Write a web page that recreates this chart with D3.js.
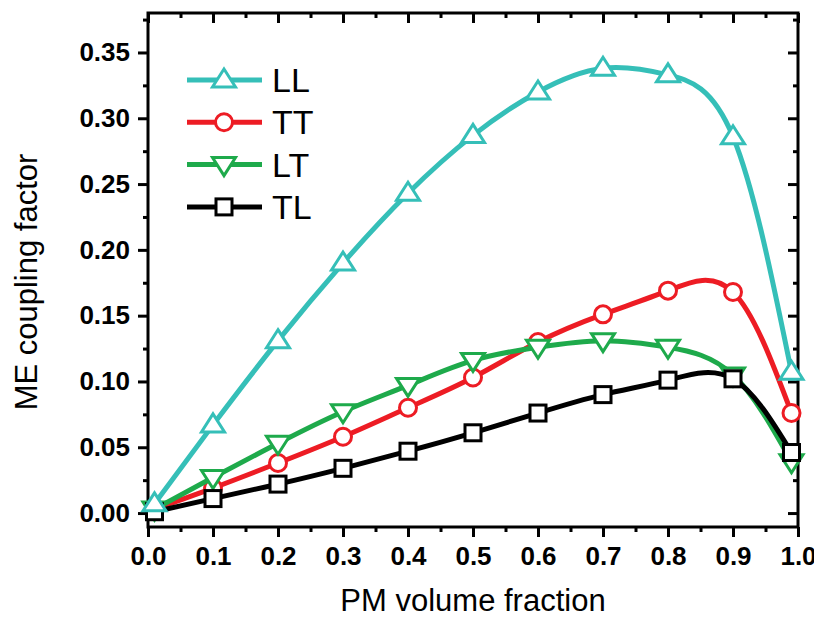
<!DOCTYPE html>
<html>
<head>
<meta charset="utf-8">
<script src="https://cdn.jsdelivr.net/npm/d3@7"></script>
<style>
  body { margin: 0; background: #fff; }
  text { font-family: Arial, "Liberation Sans", sans-serif; }
</style>
</head>
<body>
<div id="chart"></div>
<script>
// data
const fraction = [0.01, 0.1, 0.2, 0.3, 0.4, 0.5, 0.6, 0.7, 0.8, 0.9, 0.99];
const valLL = [0.007, 0.067, 0.131, 0.190, 0.243, 0.287, 0.320, 0.338, 0.333, 0.286, 0.107];
const valTT = [0.003, 0.019, 0.038, 0.058, 0.080, 0.103, 0.130, 0.151, 0.169, 0.168, 0.076];
const valLT = [0.003, 0.027, 0.053, 0.077, 0.097, 0.116, 0.126, 0.131, 0.126, 0.105, 0.039];
const valTL = [0.001, 0.011, 0.022, 0.034, 0.047, 0.061, 0.076, 0.090, 0.101, 0.102, 0.046];
const seriesNames = ["LL", "TT", "LT", "TL"];
const xTicks = [0, 0.1, 0.2, 0.3, 0.4, 0.5, 0.6, 0.7, 0.8, 0.9, 1.0];
const yTicks = [0, 0.05, 0.10, 0.15, 0.20, 0.25, 0.30, 0.35];

const series = [
  { name: "LL", values: valLL, color: "#35bfb8", marker: "up" },
  { name: "TT", values: valTT, color: "#ed1c24", marker: "circle" },
  { name: "LT", values: valLT, color: "#1eaa4b", marker: "down" },
  { name: "TL", values: valTL, color: "#000000", marker: "square" }
];

var width = 814, height = 618;
var margin = { top: 13, right: 16, bottom: 91, left: 148 },
  iwidth = width - margin.left - margin.right,
  iheight = height - margin.top - margin.bottom;

var svg = d3.select("#chart")
  .append("svg")
  .attr("width", width)
  .attr("height", height);

var g = svg.append("g")
  .attr("transform", "translate(" + margin.left + "," + margin.top + ")");

const x = d3.scaleLinear() // x scale
  .domain([0, 1])
  .range([0, iwidth]);

const y = d3.scaleLinear() // y scale
  .domain([-0.0106, 0.38])
  .range([iheight, 0]);

const xMinor = d3.range(0.05, 1, 0.1);
const yMinor = d3.range(0.025, 0.38, 0.05);

// axes: bottom / left ticks outside, top / right inside
function styleAxis(sel) {
  sel.select(".domain").remove();
  sel.selectAll(".tick line").attr("stroke", "#000").attr("stroke-width", 3);
}

g.append("g")
  .attr("transform", `translate(0,${iheight})`)
  .call(d3.axisBottom(x).tickValues(xTicks).tickSize(10).tickPadding(10).tickFormat(d3.format(".1f")))
  .call(styleAxis)
  .selectAll("text")
  .attr("font-size", 26).attr("font-weight", "bold").attr("fill", "#000");

g.append("g")
  .attr("transform", `translate(0,${iheight})`)
  .call(d3.axisBottom(x).tickValues(xMinor).tickSize(5).tickFormat(""))
  .call(styleAxis);

g.append("g")
  .call(d3.axisLeft(y).tickValues(yTicks).tickSize(10).tickPadding(8).tickFormat(d3.format(".2f")))
  .call(styleAxis)
  .selectAll("text")
  .attr("font-size", 26).attr("font-weight", "bold").attr("fill", "#000");

g.append("g")
  .call(d3.axisLeft(y).tickValues(yMinor).tickSize(5).tickFormat(""))
  .call(styleAxis);

g.append("g")
  .call(d3.axisTop(x).tickValues(xTicks).tickSize(-10).tickFormat(""))
  .call(styleAxis);
g.append("g")
  .call(d3.axisTop(x).tickValues(xMinor).tickSize(-5).tickFormat(""))
  .call(styleAxis);

g.append("g")
  .attr("transform", `translate(${iwidth},0)`)
  .call(d3.axisRight(y).tickValues(yTicks).tickSize(-10).tickFormat(""))
  .call(styleAxis);
g.append("g")
  .attr("transform", `translate(${iwidth},0)`)
  .call(d3.axisRight(y).tickValues(yMinor).tickSize(-5).tickFormat(""))
  .call(styleAxis);

g.append("rect") // frame
  .attr("x", 0).attr("y", 0)
  .attr("width", iwidth).attr("height", iheight)
  .attr("fill", "none").attr("stroke", "#000").attr("stroke-width", 3);

// markers
function drawMarker(sel, type, color) {
  if (type == "circle") {
    sel.append("circle").attr("r", 8.5)
      .attr("fill", "#fff").attr("stroke", color).attr("stroke-width", 3);
  } else if (type == "square") {
    sel.append("rect").attr("x", -8).attr("y", -8).attr("width", 16).attr("height", 16)
      .attr("fill", "#fff").attr("stroke", color).attr("stroke-width", 3);
  } else {
    var s = type == "up" ? 1 : -1;
    sel.append("path")
      .attr("d", `M0,${-11 * s} L${11.5},${7 * s} L${-11.5},${7 * s} Z`)
      .attr("fill", "#fff").attr("stroke", color).attr("stroke-width", 3)
      .attr("stroke-linejoin", "miter");
  }
}

const line = d3.line()
  .x(d => x(d[0]))
  .y(d => y(d[1]))
  .curve(d3.curveNatural);

// LL goes on top, as in the picture
const drawOrder = [1, 2, 3, 0];
drawOrder.forEach(k => {
  const s = series[k];
  const pts = fraction.map((f, i) => [f, s.values[i]]);
  g.append("path")
    .attr("d", line(pts))
    .attr("fill", "none")
    .attr("stroke", s.color)
    .attr("stroke-width", 5);

  g.selectAll(null)
    .data(pts)
    .enter()
    .append("g")
    .attr("transform", d => `translate(${x(d[0])},${y(d[1])})`)
    .each(function() { drawMarker(d3.select(this), s.marker, s.color); });
});

// legend
const legend = g.append("g").attr("transform", "translate(39,67)");
series.forEach((s, i) => {
  const row = legend.append("g").attr("transform", `translate(0,${i * 42.3})`);
  row.append("line").attr("x1", 0).attr("x2", 75)
    .attr("stroke", s.color).attr("stroke-width", 5);
  drawMarker(row.append("g").attr("transform", "translate(37,0)"), s.marker, s.color);
  row.append("text")
    .attr("x", 85).attr("y", 12)
    .attr("font-size", 34)
    .attr("fill", "#000")
    .text(seriesNames[i]);
});

// axis titles
svg.append("text")
  .attr("x", margin.left + iwidth / 2)
  .attr("y", 611)
  .attr("text-anchor", "middle")
  .attr("font-size", 31)
  .text("PM volume fraction");

svg.append("text")
  .attr("transform", "translate(37,282) rotate(-90)")
  .attr("text-anchor", "middle")
  .attr("font-size", 31)
  .text("ME coupling factor");
</script>
</body>
</html>
